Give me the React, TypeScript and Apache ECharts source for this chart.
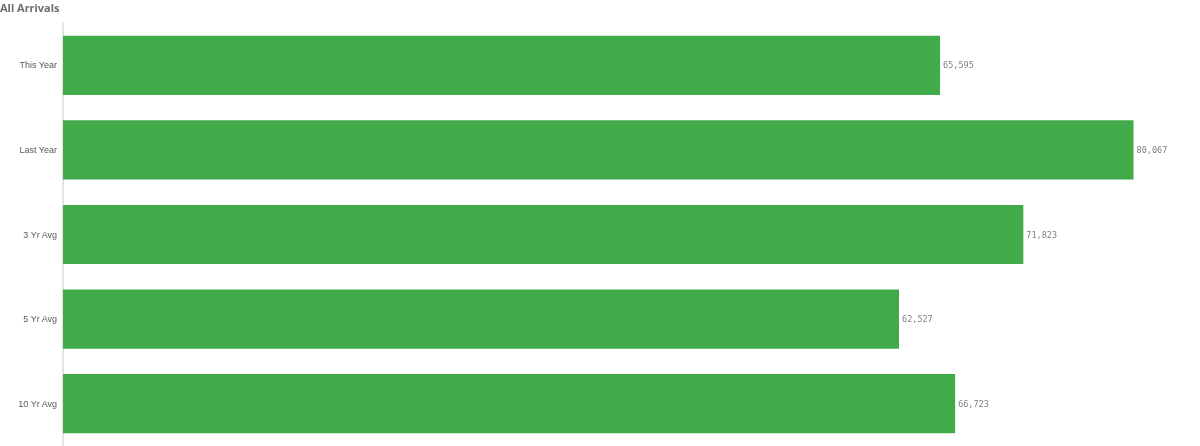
import React, { useEffect, useRef } from 'react';
import * as echarts from 'echarts';

const categories = ['This Year', 'Last Year', '3 Yr Avg', '5 Yr Avg', '10 Yr Avg'];
const arrivals = [65595, 80067, 71823, 62527, 66723];

const App: React.FC = () => {
  const chartRef = useRef<HTMLDivElement>(null);

  useEffect(() => {
    const chart = echarts.init(chartRef.current!, null, { renderer: 'svg' });

    const options = {
      animation: false,
      title: {
        text: 'All Arrivals',
        left: 0,
        top: 2,
        padding: 0,
        textStyle: {
          fontSize: 11,
          fontWeight: 'bold',
          color: '#6e6e6e',
          fontFamily: 'Noto Sans',
        },
      },
      grid: { left: 63, right: 0.5, top: 23, bottom: -1, containLabel: false },
      xAxis: {
        type: 'value',
        min: 0,
        max: 85000,
        show: false,
      },
      yAxis: {
        type: 'category',
        inverse: true,
        data: categories,
        axisLine: { show: true, lineStyle: { color: '#e4e4e4', width: 2 } },
        axisTick: { show: false },
        axisLabel: {
          fontSize: 9,
          color: '#595959',
          margin: 6,
          fontFamily: 'Liberation Sans',
        },
      },
      series: [
        {
          type: 'bar',
          data: arrivals,
          barCategoryGap: '30%',
          itemStyle: { color: '#41ab4a' },
          label: {
            show: true,
            position: 'right',
            distance: 3,
            fontSize: 8.5,
            color: '#808080',
            fontFamily: 'DejaVu Sans Mono',
            formatter: (p: any) => p.value.toLocaleString('en-US'),
          },
        },
      ],
    };

    chart.setOption(options);

    return () => {
      chart.dispose();
    };
  }, []);

  return (
    <div
      ref={chartRef}
      style={{ position: 'fixed', left: 0, top: 0, width: '1200px', height: '446px' }}
    />
  );
};

export default App;
